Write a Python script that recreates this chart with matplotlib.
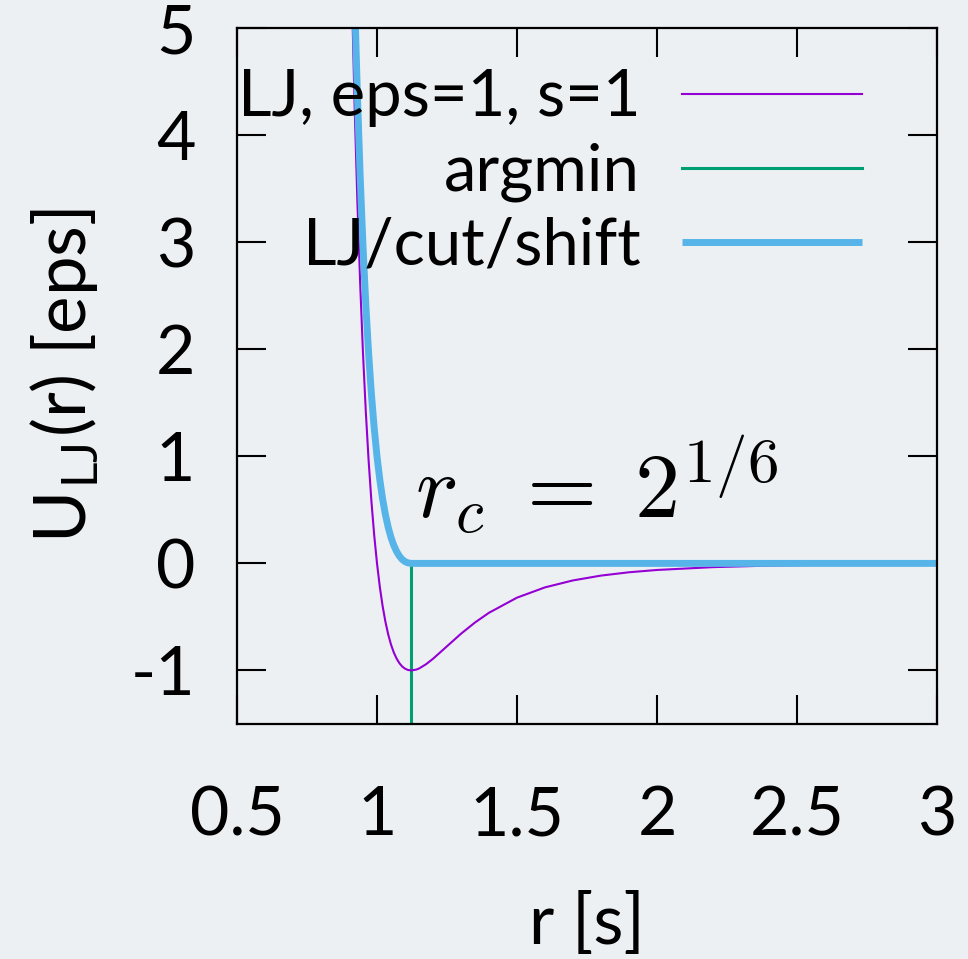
import matplotlib
matplotlib.use("Agg")
import matplotlib.pyplot as plt

# ---- data ----
r_lj = [0.90, 0.91, 0.92, 0.93, 0.94, 0.95, 0.96, 0.97, 0.98, 0.99, 1.00,
        1.01, 1.02, 1.03, 1.04, 1.05, 1.06, 1.07, 1.08, 1.09, 1.10, 1.11,
        1.1225, 1.14, 1.15, 1.175, 1.20, 1.25, 1.30, 1.35, 1.40, 1.50, 1.60,
        1.70, 1.80, 1.90, 2.00, 2.20, 2.40, 2.60, 2.80, 3.00]
u_lj = [6.636, 5.360, 4.281, 3.373, 2.606, 1.961, 1.418, 0.963, 0.582, 0.264, 0.0,
        -0.218, -0.398, -0.544, -0.663, -0.758, -0.832, -0.889, -0.932, -0.963, -0.983, -0.995,
        -1.000, -0.992, -0.982, -0.942, -0.891, -0.774, -0.657, -0.552, -0.461, -0.320, -0.224,
        -0.159, -0.114, -0.083, -0.0615, -0.035, -0.0208, -0.0129, -0.0083, -0.0055]

r_cs = [0.90, 0.91, 0.92, 0.93, 0.94, 0.95, 0.96, 0.97, 0.98, 0.99, 1.00,
        1.01, 1.02, 1.03, 1.04, 1.05, 1.06, 1.07, 1.08, 1.09, 1.10, 1.11,
        1.1225, 3.00]
u_cs = [7.636, 6.360, 5.281, 4.373, 3.606, 2.961, 2.418, 1.963, 1.582, 1.264, 1.0,
        0.782, 0.602, 0.456, 0.337, 0.242, 0.168, 0.111, 0.068, 0.037, 0.017, 0.005,
        0.0, 0.0]

r_min = [1.1225, 1.1225]
u_min = [-1.5, 0.0]

xticks = [0.5, 1, 1.5, 2, 2.5, 3]
xticklabels = ["0.5", "1", "1.5", "2", "2.5", "3"]
yticks = [-1, 0, 1, 2, 3, 4, 5]
yticklabels = ["-1", "0", "1", "2", "3", "4", "5"]

labels = ["LJ, eps=1, s=1", "argmin", "LJ/cut/shift"]

# ---- figure ----
bg = "#edf0f3"
plt.rcParams["font.family"] = ["Lato", "DejaVu Sans"]
plt.rcParams["mathtext.fontset"] = "cm"

fig = plt.figure(figsize=(9.68, 9.59), dpi=100, facecolor=bg)
ax = fig.add_axes([237/968, 1-724/959, 700/968, 696/959])
ax.set_facecolor(bg)

ax.plot(r_lj, u_lj, color="#9400d3", lw=1.5, label=labels[0], zorder=3)
ax.plot(r_min, u_min, color="#009e73", lw=2.2, label=labels[1], zorder=2)
ax.plot(r_cs, u_cs, color="#56b4e9", lw=5.0, label=labels[2], zorder=4,
        solid_capstyle="butt")

ax.set_xlim(0.5, 3)
ax.set_ylim(-1.5, 5)
ax.set_xticks(xticks)
ax.set_xticklabels(xticklabels)
ax.set_yticks(yticks)
ax.set_yticklabels(yticklabels)

for s in ax.spines.values():
    s.set_linewidth(1.6)
    s.set_zorder(5)

ax.tick_params(axis="both", direction="in", length=21, width=1.5,
               top=True, right=True, labelsize=49)
ax.tick_params(axis="x", pad=44)
ax.tick_params(axis="y", pad=30)

ax.set_xlabel("r [s]", fontsize=50, labelpad=32)
ax.set_ylabel(r"U$_{\mathregular{LJ}}$(r) [eps]", fontsize=51, labelpad=22)

ax.text(1.136, 0.424, r"$r_c\;=\;2^{1/6}$", fontsize=65, zorder=6)

leg = ax.legend(loc="upper right", bbox_to_anchor=(0.893, 0.942),
                frameon=False, markerfirst=False,
                fontsize=47, handlelength=2.76, handletextpad=0.64,
                borderaxespad=0.0, borderpad=0.0, labelspacing=0.23)
for t in leg.get_texts():
    t.set_ha("right")
leg.set_zorder(6)

fig.savefig("out.png", dpi=100, facecolor=bg)
